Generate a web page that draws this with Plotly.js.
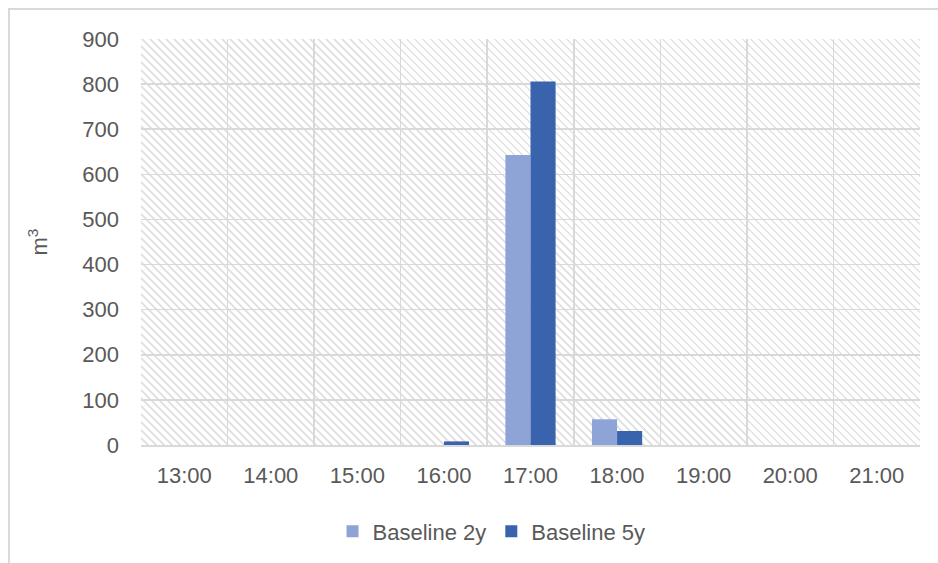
<!DOCTYPE html>
<html>
<head>
<meta charset="utf-8">
<script src="https://cdn.plot.ly/plotly-3.0.1.min.js"></script>
<style>
  html, body { margin: 0; padding: 0; background: #fff; overflow: hidden; }
  #wrap { position: relative; width: 938px; height: 563px; }
  #frame { position: absolute; left: 8px; top: 8px; width: 960px; height: 600px;
           border-left: 2px solid #d9d9d9; border-top: 2px solid #d9d9d9; box-sizing: border-box; }
  #hatch { position: absolute;
           background: repeating-linear-gradient(45deg, #ffffff 0px, #ffffff 4px, #e4e4e4 4px, #e4e4e4 5.66px); }
  #chart { position: absolute; left: 0; top: 0; width: 938px; height: 563px; }
</style>
</head>
<body>
<div id="wrap">
  <div id="frame"></div>
  <div id="hatch"></div>
  <div id="chart"></div>
</div>
<script>
// Hourly volumes (m³) for the two baseline scenarios
const hours = ['13:00', '14:00', '15:00', '16:00', '17:00', '18:00', '19:00', '20:00', '21:00'];
const baseline2y = [0, 0, 0, 0, 643, 57, 0, 0, 0];
const baseline5y = [0, 0, 0, 8, 806, 31, 0, 0, 0];
const seriesNames = ['Baseline 2y', 'Baseline 5y'];
const yTicks = [0, 100, 200, 300, 400, 500, 600, 700, 800, 900];

const textColor = '#595959';
const gridColor = '#d9d9d9';
const fontFamily = '"Liberation Sans", Arial, sans-serif';
const fontSize = 22;

const traces = [
  { type: 'bar', name: seriesNames[0], x: hours, y: baseline2y,
    marker: { color: '#8fa4d6' } },
  { type: 'bar', name: seriesNames[1], x: hours, y: baseline5y,
    marker: { color: '#3a63ae' } }
];

const layout = {
  width: 938, height: 563,
  margin: { l: 141, r: 18, t: 39, b: 117 },
  paper_bgcolor: 'rgba(0,0,0,0)',
  plot_bgcolor: 'rgba(0,0,0,0)',
  font: { family: fontFamily, size: fontSize, color: textColor },
  barmode: 'group',
  bargap: 0.42,
  bargroupgap: 0,
  showlegend: true,
  legend: { orientation: 'h', x: 0.45, xanchor: 'center', y: -0.21, yanchor: 'middle',
            font: { size: fontSize, color: textColor }, itemwidth: 30, traceorder: 'normal' },
  xaxis: {
    type: 'category', tickson: 'boundaries', ticks: '',
    showgrid: true, gridcolor: gridColor, gridwidth: 1.5,
    showline: true, linecolor: gridColor, linewidth: 1.5,
    ticklabelstandoff: 10, tickfont: { size: fontSize, color: textColor }
  },
  yaxis: {
    range: [0, 900], tickvals: yTicks, ticks: '',
    showgrid: true, gridcolor: gridColor, gridwidth: 1.5,
    zeroline: false, showline: false,
    ticklabelstandoff: 21, tickfont: { size: fontSize, color: textColor },
    title: { text: 'm<sup>3</sup>', standoff: 28, font: { size: fontSize, color: textColor } }
  }
};

Plotly.newPlot('chart', traces, layout, { displayModeBar: false, staticPlot: true }).then(function (gd) {
  const s = gd._fullLayout._size;
  const h = document.getElementById('hatch');
  h.style.left = s.l + 'px';
  h.style.top = s.t + 'px';
  h.style.width = s.w + 'px';
  h.style.height = s.h + 'px';
});
</script>
</body>
</html>
